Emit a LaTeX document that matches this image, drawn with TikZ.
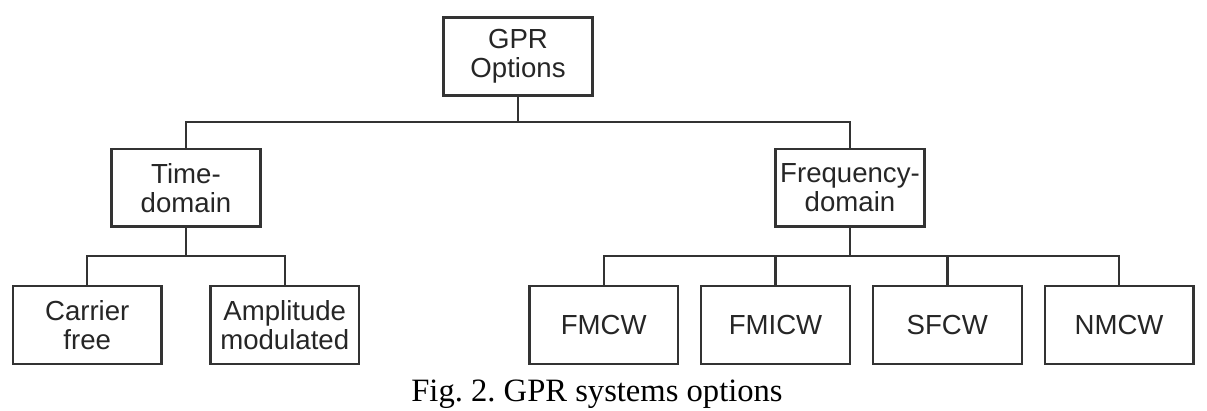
\documentclass[tikz,border=0pt]{standalone}
\usepackage{fontspec}
\setmainfont{Liberation Sans}
\newfontfamily\captionfont{Liberation Serif}
\usetikzlibrary{calc}
\frenchspacing
\begin{document}
	\begin{tikzpicture}[x=1pt, y=1pt, every node/.style={rectangle, draw=black!80, line width=1.2pt, text=black!85, align=center, minimum width=74.4pt, minimum height=38.9pt, inner sep=2pt, font=\fontsize{13.8}{14.5}\selectfont}, level 1/.style={level distance=65.6pt, sibling distance=332pt}, level 2/.style={level distance=68.6pt, sibling distance=85.9pt}, edge from parent/.style={draw=black!80, line width=1.2pt}, edge from parent path={(\tikzparentnode.south) -- ($(\tikzparentnode.south)!.5!(\tikzparentnode.south |- \tikzchildnode.north)$) -| (\tikzchildnode.north)}]
		\useasboundingbox (0,0) rectangle (603.5,-205.5);
		\node(root) at (259,-28.25) {GPR\\Options}
			child {node(time){Time-\\domain}
				child[sibling distance=98.75pt] {node(carrier){Carrier\\free}}
				child[sibling distance=98.75pt] {node(amplitude){Amplitude\\modulated}}}
			child {node(freq){Frequency-\\domain}
				child[xshift=5.7pt] {node(fmcw){FMCW}}
				child[xshift=5.7pt] {node(fmicw){FMICW}}
				child[xshift=5.7pt] {node(sfcw){SFCW}}
				child[xshift=5.7pt] {node(nmcw){NMCW}}};
		\node[draw=none, minimum width=0pt, minimum height=0pt, inner sep=0pt, anchor=base, text=black, font=\captionfont\fontsize{16.3}{18}\selectfont] (caption) at (298.5,-201) {Fig. 2. GPR systems options};
	\end{tikzpicture}
\end{document}
